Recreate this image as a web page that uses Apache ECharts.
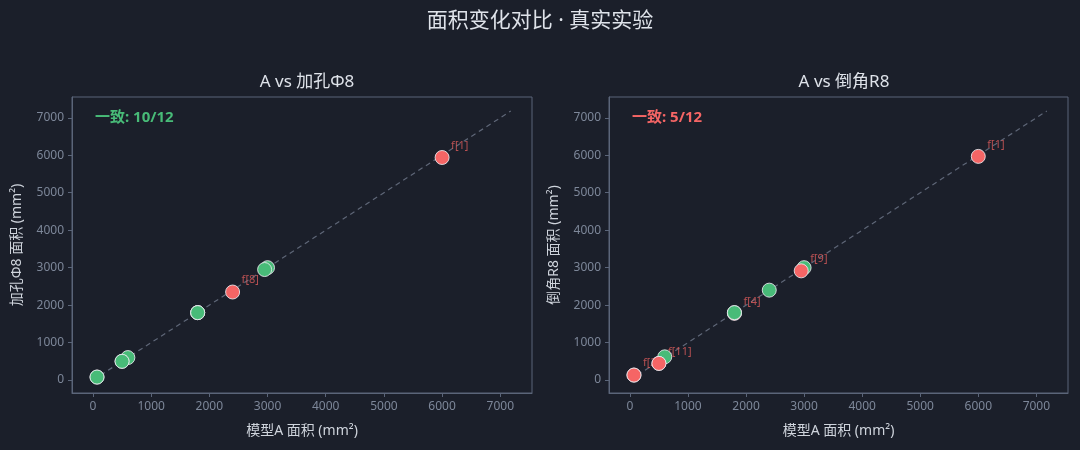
<!DOCTYPE html>
<html>
<head>
<meta charset="utf-8">
<script src="https://cdn.jsdelivr.net/npm/echarts@6/dist/echarts.min.js"></script>
<style>
  html, body { margin: 0; padding: 0; background: #1b1f2a; }
  #main { width: 1080px; height: 450px; }
</style>
</head>
<body>
<div id="main"></div>
<script>
// Data (model A area vs two variants, mm²)
var pointNames = ['f[0]', 'f[1]', 'f[2]', 'f[3]', 'f[4]', 'f[5]', 'f[6]', 'f[7]', 'f[8]', 'f[9]', 'f[10]', 'f[11]'];
var areaA     = [3000, 6000,  70, 600, 1800, 1800,  70, 500, 2400, 2950, 1800, 500];
var areaHole  = [3000, 5940,  80, 600, 1800, 1800,  80, 500, 2350, 2950, 1800, 500];
var areaFillet = [3000, 5970, 133, 620, 1780, 1800, 133, 445, 2400, 2915, 1800, 445];
// 1 = consistent, 0 = not
var matchHole   = [1, 0, 1, 1, 1, 1, 1, 1, 0, 1, 1, 1];
var matchFillet = [1, 0, 0, 1, 0, 1, 0, 0, 1, 0, 1, 0];
// which mismatches get a text tag
var tagHole   = [1, 8];
var tagFillet = [1, 2, 4, 9, 11];
var diagonal = [0, 7180];
var tickValues = [0, 1000, 2000, 3000, 4000, 5000, 6000, 7000];

var GREEN = '#48bb78',
  RED = '#f56565',
  FONT = '"Noto Sans", "Noto Sans CJK SC", sans-serif';

var myChart = echarts.init(document.getElementById('main'));

function countMatch(arr) {
  var n = 0;
  arr.forEach(function (v) { n += v; });
  return n;
}

function makeAxis(gridIndex, name, isY) {
  return {
    type: 'value',
    gridIndex: gridIndex,
    min: isY ? -345 : -360,
    max: isY ? 7555 : 7545,
    name: name,
    nameLocation: 'middle',
    nameGap: isY ? 48 : 31,
    nameTextStyle: { color: '#cfd4dc', fontSize: 14, fontFamily: FONT },
    axisLine: { show: true, onZero: false, lineStyle: { color: '#5b6579' } },
    axisTick: { show: true, length: 4, lineStyle: { color: '#5b6579' }, customValues: tickValues },
    axisLabel: {
      color: '#7d8799', fontSize: 12, fontFamily: FONT, margin: 8,
      customValues: tickValues,
      formatter: function (v) { return String(v); }
    },
    splitLine: { show: false }
  };
}

function pointData(ys, match) {
  return areaA.map(function (x, i) {
    return {
      value: [x, ys[i]],
      itemStyle: { color: match[i] ? GREEN : RED }
    };
  });
}

function tagData(ys, tags) {
  return tags.map(function (i) {
    return { value: [areaA[i], ys[i]], name: pointNames[i] };
  });
}

function seriesFor(idx, ys, match, tags) {
  return [
    {
      type: 'line',
      xAxisIndex: idx,
      yAxisIndex: idx,
      data: [[diagonal[0], diagonal[0]], [diagonal[1], diagonal[1]]],
      symbol: 'none',
      silent: true,
      z: 1,
      lineStyle: { color: '#5f6778', width: 1.2, type: [5, 4] }
    },
    {
      type: 'scatter',
      xAxisIndex: idx,
      yAxisIndex: idx,
      symbolSize: 0,
      z: 2,
      data: tagData(ys, tags),
      label: {
        show: true,
        position: 'right',
        offset: [4, -12],
        formatter: '{b}',
        color: '#e05d5d',
        fontSize: 11,
        fontFamily: FONT
      }
    },
    {
      type: 'scatter',
      xAxisIndex: idx,
      yAxisIndex: idx,
      symbolSize: 14,
      z: 3,
      data: pointData(ys, match),
      itemStyle: { borderColor: 'rgba(235,235,240,0.85)', borderWidth: 1, opacity: 1 }
    }
  ];
}

var nHole = countMatch(matchHole),
  nFillet = countMatch(matchFillet);

var option = {
  backgroundColor: '#1b1f2a',
  animation: false,
  title: [
    { text: '面积变化对比 · 真实实验', left: 'center', top: 6,
      textStyle: { color: '#dfe3ea', fontSize: 21, fontWeight: 'normal', fontFamily: FONT } },
    { text: 'A vs 加孔Φ8', left: 302, top: 69, textAlign: 'center',
      textStyle: { color: '#dfe3ea', fontSize: 17, fontWeight: 'normal', fontFamily: FONT } },
    { text: 'A vs 倒角R8', left: 839, top: 69, textAlign: 'center',
      textStyle: { color: '#dfe3ea', fontSize: 17, fontWeight: 'normal', fontFamily: FONT } },
    { text: '一致: ' + nHole + '/' + areaA.length, left: 95, top: 110, padding: 0,
      textStyle: { color: nHole >= areaA.length / 2 ? GREEN : RED, fontSize: 15, fontWeight: 'bold', fontFamily: FONT } },
    { text: '一致: ' + nFillet + '/' + areaA.length, left: 632, top: 110, padding: 0,
      textStyle: { color: nFillet >= areaA.length / 2 ? GREEN : RED, fontSize: 15, fontWeight: 'bold', fontFamily: FONT } }
  ],
  grid: [
    { left: 72, right: 548, top: 97, bottom: 57, show: true, borderColor: '#5b6579', borderWidth: 1, backgroundColor: 'transparent' },
    { left: 609, right: 12, top: 97, bottom: 57, show: true, borderColor: '#5b6579', borderWidth: 1, backgroundColor: 'transparent' }
  ],
  xAxis: [
    makeAxis(0, '模型A 面积 (mm²)', false),
    makeAxis(1, '模型A 面积 (mm²)', false)
  ],
  yAxis: [
    makeAxis(0, '加孔Φ8 面积 (mm²)', true),
    makeAxis(1, '倒角R8 面积 (mm²)', true)
  ],
  series: [].concat(
    seriesFor(0, areaHole, matchHole, tagHole),
    seriesFor(1, areaFillet, matchFillet, tagFillet)
  )
};

myChart.setOption(option);
</script>
</body>
</html>
